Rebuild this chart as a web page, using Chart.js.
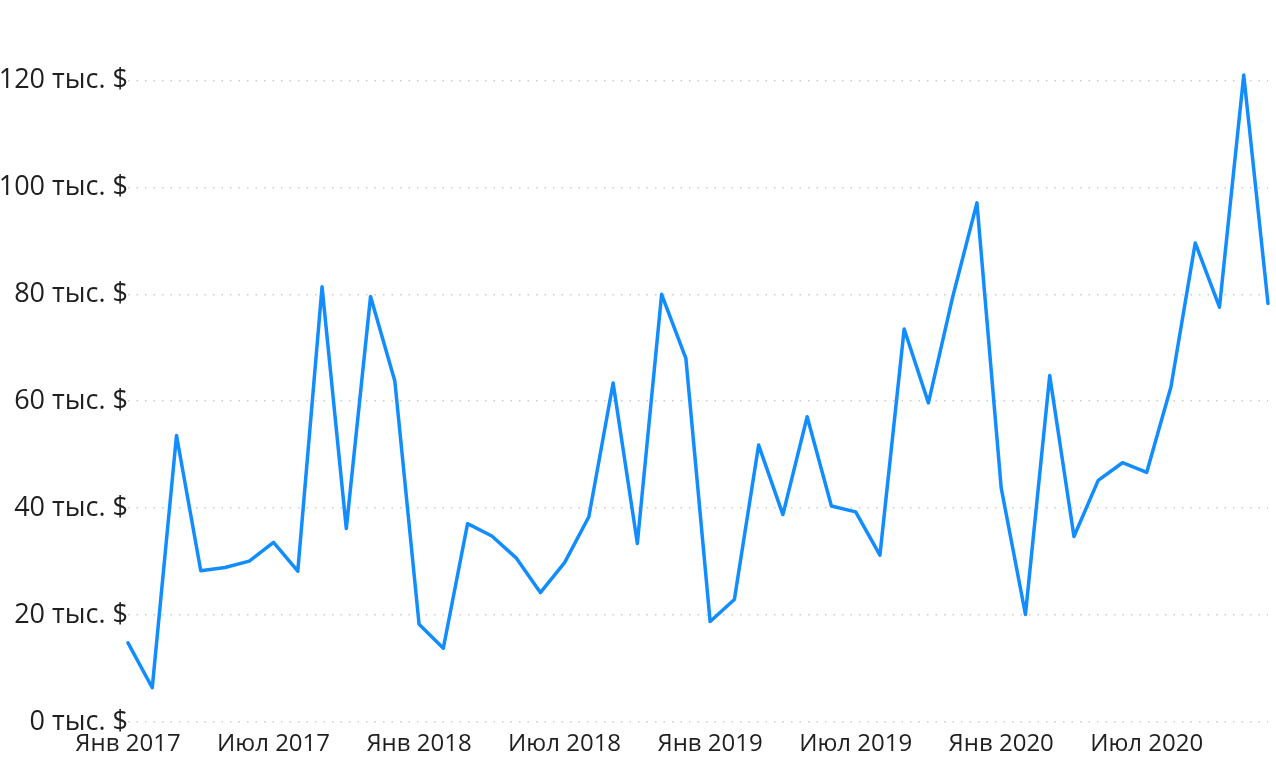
<!DOCTYPE html>
<html>
<head>
<meta charset="utf-8">
<script src="https://cdn.jsdelivr.net/npm/chart.js@4"></script>
<style>
  html, body { margin: 0; padding: 0; background: #fff; }
  #wrap { width: 1276px; height: 760px; position: relative; }
</style>
</head>
<body>
<div id="wrap"><canvas id="sales_chart"></canvas></div>
<script>
// months, Jan 2017 .. Dec 2020
const months = [
  'Янв 2017', 'Фев 2017', 'Мар 2017', 'Апр 2017', 'Май 2017', 'Июн 2017',
  'Июл 2017', 'Авг 2017', 'Сен 2017', 'Окт 2017', 'Ноя 2017', 'Дек 2017',
  'Янв 2018', 'Фев 2018', 'Мар 2018', 'Апр 2018', 'Май 2018', 'Июн 2018',
  'Июл 2018', 'Авг 2018', 'Сен 2018', 'Окт 2018', 'Ноя 2018', 'Дек 2018',
  'Янв 2019', 'Фев 2019', 'Мар 2019', 'Апр 2019', 'Май 2019', 'Июн 2019',
  'Июл 2019', 'Авг 2019', 'Сен 2019', 'Окт 2019', 'Ноя 2019', 'Дек 2019',
  'Янв 2020', 'Фев 2020', 'Мар 2020', 'Апр 2020', 'Май 2020', 'Июн 2020',
  'Июл 2020', 'Авг 2020', 'Сен 2020', 'Окт 2020', 'Ноя 2020', 'Дек 2020'
];

// sales, thousands of $
const sales = [
  14.8, 6.4, 53.6, 28.3, 28.9, 30.1, 33.6, 28.2, 81.4, 36.2, 79.6, 63.8,
  18.3, 13.8, 37.1, 34.8, 30.7, 24.2, 29.8, 38.4, 63.4, 33.4, 80.0, 68.0,
  18.8, 22.9, 51.8, 38.8, 57.1, 40.4, 39.3, 31.2, 73.5, 59.7, 79.5, 97.1,
  43.8, 20.1, 64.8, 34.7, 45.2, 48.5, 46.7, 62.7, 89.6, 77.6, 121.0, 78.3
];

const xTickLabels = ['Янв 2017', 'Июл 2017', 'Янв 2018', 'Июл 2018',
                     'Янв 2019', 'Июл 2019', 'Янв 2020', 'Июл 2020'];
const yTicks = [0, 20, 40, 60, 80, 100, 120];

Chart.defaults.font.family = "'Open Sans', 'Noto Sans', sans-serif";
Chart.defaults.font.size = 24;
Chart.defaults.color = '#201f1e';

const chart = new Chart('sales_chart', {
  type: 'line',
  data: {
    labels: months,
    datasets: [{
      data: sales,
      borderColor: '#118DFF',
      borderWidth: 3.5,
      borderJoinStyle: 'round',
      borderCapStyle: 'round',
      pointRadius: 0,
      tension: 0,
      fill: false,
      clip: false
    }]
  },
  options: {
    responsive: true,
    maintainAspectRatio: false,
    animation: false,
    layout: { padding: { top: 27, right: 4, left: 0, bottom: 0 } },
    plugins: {
      legend: { display: false },
      tooltip: { enabled: false }
    },
    scales: {
      x: {
        offset: false,
        grid: { display: false, drawTicks: false },
        border: { display: false },
        afterFit: (scale) => { scale.height = 38; },
        ticks: {
          autoSkip: false,
          maxRotation: 0,
          padding: 8,
          font: { size: 24 },
          callback: function(val, idx) {
            const lbl = this.getLabelForValue(val);
            return xTickLabels.includes(lbl) ? lbl : '';
          }
        }
      },
      y: {
        min: 0,
        max: 130,
        afterBuildTicks: (axis) => {
          axis.ticks = yTicks.map(v => ({ value: v }));
        },
        afterFit: (scale) => { scale.width = 128; },
        grid: { color: 'rgba(200, 198, 196, 0.9)', lineWidth: 1.5, drawTicks: false },
        border: { display: false, dash: [1.5, 7] },
        ticks: {
          padding: 0,
          font: { size: 27 },
          callback: (v) => v + ' тыс. $'
        }
      }
    }
  }
});
</script>
</body>
</html>
